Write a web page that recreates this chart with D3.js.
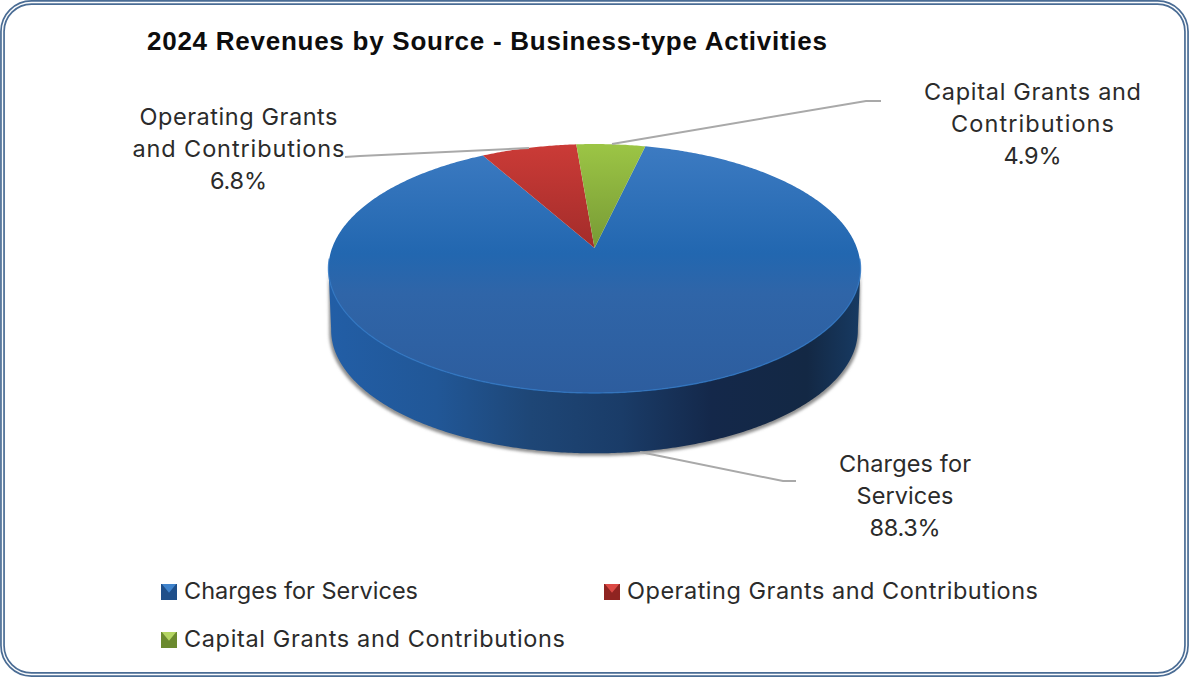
<!DOCTYPE html>
<html>
<head>
<meta charset="utf-8">
<script src="https://cdn.jsdelivr.net/npm/d3@7"></script>
<style>
html,body{margin:0;padding:0;background:#fff;}
svg{display:block;}
text{font-family:Inter,"Liberation Sans",sans-serif;fill:#2b2b2b;}
</style>
</head>
<body>
<svg id="chart" width="1189" height="677"></svg>
<script>
const chartTitle = "2024 Revenues by Source - Business-type Activities";
const categories = ["Charges for Services", "Operating Grants and Contributions", "Capital Grants and Contributions"];
const shares = [88.3, 6.8, 4.9];
const labelLines = [["Charges for", "Services"], ["Operating Grants", "and Contributions"], ["Capital Grants and", "Contributions"]];

// Set widths of each text run, in pixels
const titleWidth = 680;
const legendWidths = [234, 411, 381];
const labelWidths = [[132, 97, 71], [198, 212, 57], [217, 163, 58]];

const topColors = [["#3d7bc2", "#2267b0", "#2f65a8", "#2d5d9e"], ["#cb3b37", "#a32c2a"], ["#9cc545", "#779a35"]];
const keyColors = [["#3f83cc", "#1f4f8a"], ["#dc4a45", "#8f2421"], ["#b4d562", "#6b8a2e"]];

const svg = d3.select("#chart");
const defs = svg.append("defs");

// Perspective projection of the tilted disc: unit circle to page pixels.
const disc = {cx: 594.5, cy: 248, a: 262.4, b: 121.1, k: 0.1647, depth: 61, bottomScale: 0.99};
function project(angle, lowered) {
  const u = Math.sin(angle), v = -Math.cos(angle);
  const w = 1 - disc.k * v;
  const s = lowered ? disc.bottomScale : 1;
  return [
    disc.cx + s * disc.a * u / w,
    disc.cy + s * disc.b * v / w + (lowered ? disc.depth + 0.8 : 0)
  ];
}
const rad = d => d * Math.PI / 180;
const pie = d3.pie().sort(null).startAngle(rad(13)).endAngle(rad(373));
const arcs = pie(shares);
const line = d3.line();

function sampled(a0, a1, lowered) {
  const n = Math.max(2, Math.ceil(Math.abs(a1 - a0) / 0.01));
  return d3.range(n + 1).map(i => project(a0 + (a1 - a0) * i / n, lowered));
}

// Gradients
function linear(id, stops, horizontal, range) {
  const g = defs.append("linearGradient").attr("id", id).attr("gradientUnits", "userSpaceOnUse");
  if (horizontal) g.attr("x1", range[0]).attr("x2", range[1]).attr("y1", 0).attr("y2", 0);
  else g.attr("x1", 0).attr("x2", 0).attr("y1", range[0]).attr("y2", range[1]);
  stops.forEach(s => g.append("stop").attr("offset", s[0]).attr("stop-color", s[1]));
}
linear("top0", [[0, topColors[0][0]], [0.44, topColors[0][1]], [0.6, topColors[0][2]], [1, topColors[0][3]]], false, [144, 393]);
linear("top1", [[0, topColors[1][0]], [1, topColors[1][1]]], false, [144, 248]);
linear("top2", [[0, topColors[2][0]], [1, topColors[2][1]]], false, [144, 248]);
linear("wall", [[0, "#225ea6"], [0.2, "#215797"], [0.38, "#1e4676"], [0.55, "#1a3c68"], [0.72, "#14284a"], [0.9, "#132844"], [1, "#173a62"]], true, [330, 860]);
const soft = defs.append("filter").attr("id", "soft").attr("x", "-5%").attr("y", "-5%").attr("width", "110%").attr("height", "110%");
soft.append("feGaussianBlur").attr("stdDeviation", 1.6);

// Double-line rounded frame
svg.append("rect").attr("x", 2.5).attr("y", 2.5).attr("width", 1184).attr("height", 672).attr("rx", 29)
  .attr("fill", "#fff").attr("stroke", "#4a6c94").attr("stroke-width", 4.8);
svg.append("rect").attr("x", 2.5).attr("y", 2.5).attr("width", 1184).attr("height", 672).attr("rx", 29)
  .attr("fill", "none").attr("stroke", "#fbfcfd").attr("stroke-width", 1.4);

// Title
svg.append("text").text(chartTitle).attr("x", 147).attr("y", 50)
  .attr("textLength", titleWidth).attr("lengthAdjust", "spacing")
  .style("font-family", '"Liberation Sans",Arial,sans-serif')
  .style("font-size", "26px").style("font-weight", 700).style("fill", "#0d0d0d");

// The wall runs between the two widest points of the disc
const wallArc = [rad(99), rad(261)];
const wallPoints = sampled(wallArc[0], wallArc[1], true);
const rimPoints = sampled(wallArc[1], wallArc[0], false);

// Soft shadow under the wall
svg.append("path").attr("d", line(wallPoints.map(p => [p[0] - 2 * (p[0] < disc.cx ? 1 : -1), p[1] + 2.5]).concat(rimPoints)) + "Z")
  .attr("fill", "#8f8f8f").attr("filter", "url(#soft)");

// Wall of the disc; the whole front belongs to the largest slice
svg.append("path").attr("d", line(wallPoints.concat(rimPoints)) + "Z").attr("fill", "url(#wall)");

// Top face slices
const slices = svg.append("g");
arcs.forEach((d, i) => {
  const pts = [[disc.cx, disc.cy]].concat(sampled(d.startAngle, d.endAngle, false));
  slices.append("path").attr("d", line(pts) + "Z").attr("fill", `url(#top${i})`);
});

// Light rim along the front edge of the top face
svg.append("path").attr("d", line(sampled(rad(95), rad(265), false)))
  .attr("fill", "none").attr("stroke", "#2f77c4").attr("stroke-width", 1.4).attr("opacity", 0.8);

// Leader lines
const leaders = [
  [[640, 452], [783, 481], [796, 481]],
  [[529, 148], [360, 156], [345, 157]],
  [[612, 144], [866, 101], [881, 101]]
];
leaders.forEach(l => svg.append("path").attr("d", line(l)).attr("fill", "none")
  .attr("stroke", "#a9a9a9").attr("stroke-width", 2));

// Slice labels
const fmt = d3.format(".1f");
const labelSpots = [[905, 472], [238.5, 125], [1032.5, 100]];
arcs.forEach((d, i) => {
  labelLines[i].concat(fmt(d.data) + "%").forEach((s, j) => {
    svg.append("text").text(s).attr("text-anchor", "middle")
      .attr("x", labelSpots[i][0]).attr("y", labelSpots[i][1] + j * 31.9)
      .attr("textLength", labelWidths[i][j]).attr("lengthAdjust", "spacing")
      .style("font-size", "23.5px");
  });
});

// Legend with bevelled keys
const keySpots = [[161, 584], [604, 584], [161, 632]];
categories.forEach((c, i) => {
  const [x, y] = keySpots[i], size = 16;
  const g = svg.append("g").attr("transform", `translate(${x},${y})`);
  const x2 = d3.scaleLinear().domain([0, 1]).range([0, size]);
  g.append("rect").attr("width", x2(1)).attr("height", x2(1)).attr("fill", keyColors[i][1]);
  g.append("path").attr("d", line([[x2(0.05), x2(0)], [x2(0.95), x2(0)], [x2(0.5), x2(0.55)]]) + "Z").attr("fill", keyColors[i][0]);
  svg.append("text").text(c).attr("x", x + 23).attr("y", y + 15)
    .attr("textLength", legendWidths[i]).attr("lengthAdjust", "spacing")
    .style("font-size", "23.5px");
});
</script>
</body>
</html>
